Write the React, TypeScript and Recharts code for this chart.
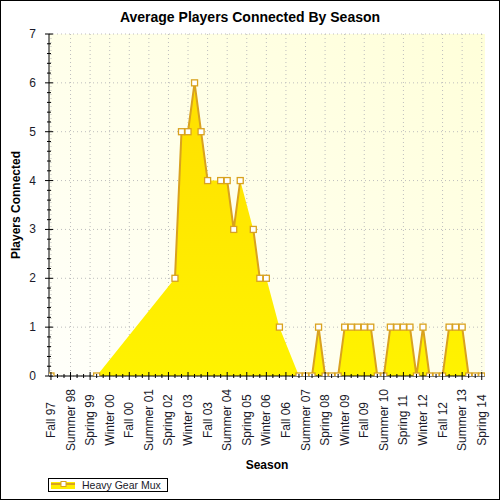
import React from 'react';
import { ComposedChart, Area, Line, XAxis, YAxis, CartesianGrid, Legend, Label } from 'recharts';

const FONT = '"Liberation Sans", Arial, sans-serif';

// Quarter categories (Fall 97 .. Spring 14)
const SEASON_NAMES = ['Fall', 'Winter', 'Spring', 'Summer'];
const FIRST_YEAR = 1997;
const QUARTER_COUNT = 67;
const seasons: string[] = Array.from({ length: QUARTER_COUNT }, (_, i) => {
  const name = SEASON_NAMES[i % 4];
  const year = FIRST_YEAR + Math.floor(i / 4) + (i % 4 === 0 ? 0 : 1);
  return `${name} ${String(year % 100).padStart(2, '0')}`;
});

// Labelled ticks on the x axis
const tickLabels = [
  'Fall 97', 'Summer 98', 'Spring 99', 'Winter 00', 'Fall 00', 'Summer 01', 'Spring 02',
  'Winter 03', 'Fall 03', 'Summer 04', 'Spring 05', 'Winter 06', 'Fall 06', 'Summer 07',
  'Spring 08', 'Winter 09', 'Fall 09', 'Summer 10', 'Spring 11', 'Winter 12', 'Fall 12',
  'Summer 13', 'Spring 14',
];

// Seasons with a recorded average
const recordedSeasons = [
  'Fall 97', 'Summer 99',
  'Summer 02', 'Fall 02', 'Winter 03', 'Spring 03', 'Summer 03', 'Fall 03',
  'Spring 04', 'Summer 04', 'Fall 04', 'Winter 05',
  'Summer 05', 'Fall 05', 'Winter 06',
  'Summer 06',
  'Spring 07', 'Summer 07', 'Fall 07', 'Winter 08', 'Spring 08', 'Summer 08', 'Fall 08',
  'Winter 09', 'Spring 09', 'Summer 09', 'Fall 09', 'Winter 10', 'Spring 10', 'Summer 10',
  'Fall 10', 'Winter 11', 'Spring 11', 'Summer 11', 'Fall 11', 'Winter 12', 'Spring 12',
  'Summer 12', 'Fall 12', 'Winter 13', 'Spring 13', 'Summer 13', 'Fall 13', 'Winter 14',
  'Spring 14',
];

// Average players connected (Heavy Gear Mux)
const avgPlayers = [
  0, 0,
  2, 5, 5, 6, 5, 4,
  4, 4, 3, 4,
  3, 2, 2,
  1,
  0, 0, 0, 1, 0, 0, 0,
  1, 1, 1, 1, 1, 0, 0,
  1, 1, 1, 1, 0, 1, 0,
  0, 0, 1, 1, 1, 0, 0,
  0,
];

const yMajorTicks = [0, 1, 2, 3, 4, 5, 6, 7];
const Y_MINOR_DIV = 5;

const seriesName = 'Heavy Gear Mux';

const data = seasons.map((s, i) => {
  const k = recordedSeasons.indexOf(s);
  return { q: i, season: s, players: k >= 0 ? avgPlayers[k] : null };
});

const xAllTicks = seasons.map((_, i) => i);
const xMajorTicks = tickLabels.map((l) => seasons.indexOf(l));
const yAllTicks: number[] = [];
yMajorTicks.forEach((v, i) => {
  if (i === 0) { yAllTicks.push(v); return; }
  const prev = yMajorTicks[i - 1];
  for (let j = 1; j <= Y_MINOR_DIV; j++) {
    yAllTicks.push(Math.round((prev + ((v - prev) * j) / Y_MINOR_DIV) * 1000) / 1000);
  }
});

const X_DOMAIN: [number, number] = [-0.3, 66.5];
const LINE_COLOR = '#D9A21F';

const isMajorX = (v: number) => xMajorTicks.includes(v);

const BottomTick = (props: any) => {
  const { x, y, payload } = props;
  const v = payload.value;
  const major = isMajorX(v);
  const len = major ? 4 : 2;
  const ly = y + 44;
  return (
    <g>
      <line x1={x} x2={x} y1={y - len} y2={y + len} stroke="#000" strokeWidth={1} />
      {major && (
        <text
          x={x}
          y={ly}
          transform={`rotate(-90 ${x} ${ly})`}
          textAnchor="middle"
          dominantBaseline="central"
          fontSize={12}
          fontFamily={FONT}
          fill="#1a1a2a"
        >
          {seasons[v]}
        </text>
      )}
    </g>
  );
};

const TopTick = (props: any) => {
  const { x, y, payload } = props;
  const len = isMajorX(payload.value) ? 4 : 2;
  return <line x1={x} x2={x} y1={y} y2={y + len} stroke="#000" strokeWidth={1} />;
};

const LeftTick = (props: any) => {
  const { x, y, payload } = props;
  const major = Number.isInteger(payload.value);
  const len = major ? 4 : 2;
  return (
    <g>
      <line x1={x - len} x2={x + len} y1={y} y2={y} stroke="#000" strokeWidth={1} />
      {major && (
        <text
          x={x - 13}
          y={y}
          textAnchor="end"
          dominantBaseline="central"
          fontSize={12}
          fontFamily={FONT}
          fill="#1a1a2a"
        >
          {payload.value}
        </text>
      )}
    </g>
  );
};

const RightTick = (props: any) => {
  const { x, y, payload } = props;
  const len = Number.isInteger(payload.value) ? 4 : 2;
  return <line x1={x - len} x2={x} y1={y} y2={y} stroke="#000" strokeWidth={1} />;
};

const SquareDot = (props: any) => {
  const { cx, cy, index } = props;
  if (cx == null || cy == null || props.value == null || (Array.isArray(props.value) && props.value[1] == null)) {
    return <g key={`d-${index}`} />;
  }
  return (
    <rect
      key={`d-${index}`}
      x={cx - 3}
      y={cy - 3}
      width={6}
      height={6}
      fill="#ffffff"
      stroke={LINE_COLOR}
      strokeWidth={1.3}
    />
  );
};

const YAxisTitle = (props: any) => {
  const vb = props.viewBox || { x: 0, y: 34, width: 49, height: 342 };
  const cx = vb.x + 16;
  const cy = vb.y + vb.height / 2;
  return (
    <text
      x={cx}
      y={cy}
      transform={`rotate(-90 ${cx} ${cy})`}
      textAnchor="middle"
      dominantBaseline="central"
      fontSize={12}
      fontWeight="bold"
      fontFamily={FONT}
      fill="#000"
    >
      Players Connected
    </text>
  );
};

const XAxisTitle = (props: any) => {
  const vb = props.viewBox || { x: 49, y: 376, width: 436, height: 110 };
  return (
    <text
      x={vb.x + vb.width / 2}
      y={vb.y + 89}
      textAnchor="middle"
      dominantBaseline="central"
      fontSize={12}
      fontWeight="bold"
      fontFamily={FONT}
      fill="#000"
    >
      Season
    </text>
  );
};

const LegendContent = () => (
  <div
    style={{
      boxSizing: 'border-box',
      width: 120,
      height: 14,
      border: '1px solid #000',
      background: '#fff',
      display: 'flex',
      alignItems: 'center',
      fontFamily: FONT,
      fontSize: 10.5,
      lineHeight: '12px',
      color: '#1a1a2a',
    }}
  >
    <svg width={32} height={12} style={{ display: 'block' }}>
      <rect x={2} y={3} width={24} height={7} fill="#FFEE00" />
      <line x1={2} x2={26} y1={5} y2={5} stroke={LINE_COLOR} strokeWidth={2} />
      <rect x={12} y={2.5} width={5} height={5} fill="#fff" stroke={LINE_COLOR} strokeWidth={1} />
    </svg>
    <span style={{ marginLeft: 1 }}>{seriesName}</span>
  </div>
);

export default function App() {
  return (
    <div style={{ position: 'fixed', left: 0, top: 0, width: 500, height: 500, background: '#fff' }}>
      <div
        style={{
          position: 'absolute',
          left: 0,
          top: 9,
          width: 500,
          textAlign: 'center',
          fontFamily: FONT,
          fontWeight: 'bold',
          fontSize: 14,
          lineHeight: '16px',
          color: '#000',
        }}
      >
        Average Players Connected By Season
      </div>
      <ComposedChart
        width={500}
        height={500}
        data={data}
        margin={{ top: 34, right: 15, left: 0, bottom: 0 }}
      >
        <defs>
          <linearGradient id="plotBg" x1="0" y1="1" x2="1" y2="0">
            <stop offset="0%" stopColor="#FFFFFA" />
            <stop offset="100%" stopColor="#FFFFD9" />
          </linearGradient>
          <linearGradient id="areaFill" x1="0" y1="0" x2="0" y2="1">
            <stop offset="0%" stopColor="#FFDF00" />
            <stop offset="100%" stopColor="#FFF300" />
          </linearGradient>
        </defs>
        <CartesianGrid
          fill="url(#plotBg)"
          stroke="#bdbdbd"
          strokeDasharray="1 3"
          verticalValues={xMajorTicks}
          horizontalValues={yMajorTicks}
        />
        <Area
          type="linear"
          dataKey="players"
          name={seriesName}
          connectNulls
          stroke="none"
          fill="url(#areaFill)"
          fillOpacity={1}
          dot={false}
          activeDot={false}
          isAnimationActive={false}
          legendType="none"
        />
        <Line
          type="linear"
          dataKey="players"
          name={seriesName}
          connectNulls={false}
          stroke={LINE_COLOR}
          strokeWidth={2}
          dot={SquareDot}
          activeDot={false}
          isAnimationActive={false}
        />
        <XAxis
          dataKey="q"
          type="number"
          domain={X_DOMAIN}
          allowDataOverflow
          ticks={xAllTicks}
          interval={0}
          tickSize={0}
          tickMargin={0}
          tickLine={false}
          axisLine={{ stroke: '#000' }}
          tick={BottomTick}
          height={110}
        >
          <Label content={XAxisTitle} />
        </XAxis>
        <XAxis
          xAxisId="top"
          orientation="top"
          dataKey="q"
          type="number"
          domain={X_DOMAIN}
          allowDataOverflow
          ticks={xAllTicks}
          interval={0}
          tickSize={0}
          tickMargin={0}
          tickLine={false}
          axisLine={{ stroke: '#000' }}
          tick={TopTick}
          height={0}
        />
        <YAxis
          type="number"
          domain={[0, 7]}
          allowDataOverflow
          ticks={yAllTicks}
          interval={0}
          tickSize={0}
          tickMargin={0}
          tickLine={false}
          axisLine={{ stroke: '#000' }}
          tick={LeftTick}
          width={49}
        >
          <Label content={YAxisTitle} />
        </YAxis>
        <YAxis
          yAxisId="right"
          orientation="right"
          type="number"
          domain={[0, 7]}
          allowDataOverflow
          ticks={yAllTicks}
          interval={0}
          tickSize={0}
          tickMargin={0}
          tickLine={false}
          axisLine={{ stroke: '#000' }}
          tick={RightTick}
          width={0}
        />
        <Legend
          verticalAlign="bottom"
          align="left"
          content={LegendContent}
          wrapperStyle={{ left: 48, bottom: 8, width: 120, height: 14 }}
        />
      </ComposedChart>
      <div
        style={{
          position: 'absolute',
          left: 0,
          top: 0,
          width: 500,
          height: 500,
          boxSizing: 'border-box',
          border: '1px solid #000',
          pointerEvents: 'none',
        }}
      />
    </div>
  );
}
